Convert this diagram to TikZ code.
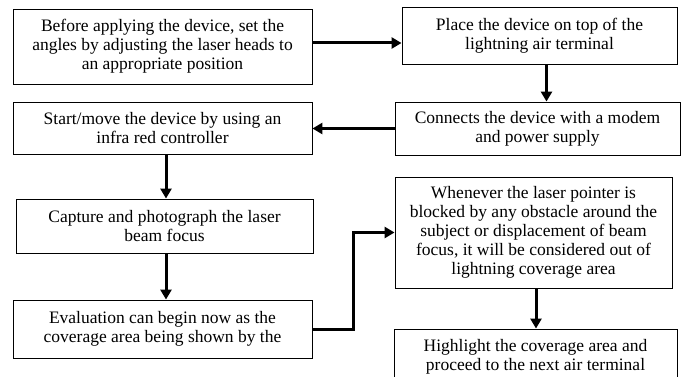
\documentclass[tikz,border=0pt]{standalone}
\usepackage{fontspec}
\setmainfont{Liberation Serif}
\usepackage{tikz}
\usetikzlibrary{arrows.meta}

\begin{document}
\begin{tikzpicture}[x=1pt,y=-1pt,
 stepbox/.style={draw,line width=0.9pt,fill=white,align=center,inner sep=0pt,
  font=\fontsize{17.5}{19}\selectfont},
 flow/.style={line width=3pt,-{Triangle[length=10pt,width=11pt]}}]
 \useasboundingbox (0,0) rectangle (686,377);
 \clip (0,0) rectangle (686,377);
 % left column
 \node[stepbox,minimum width=299pt,minimum height=75pt] (b1) at (162.5,46.5)
  {Before applying the device, set the\\angles by adjusting the laser heads to\\an appropriate position};
 \node[stepbox,minimum width=299pt,minimum height=52pt] (b4) at (162.5,128)
  {Start/move the device by using an\\infra red controller};
 \node[stepbox,minimum width=297pt,minimum height=54pt] (b5) at (164.5,226)
  {Capture and photograph the laser\\beam focus};
 \node[stepbox,minimum width=299pt,minimum height=58pt] (b6) at (162.5,329)
  {Evaluation can begin now as the\\coverage area being shown by the};
 % right column
 \node[stepbox,minimum width=275pt,minimum height=57pt] (b2) at (539.5,35.5)
  {Place the device on top of the\\lightning air terminal};
 \node[stepbox,minimum width=285pt,minimum height=53pt] (b3) at (537.5,128.5)
  {Connects the device with a modem\\and power supply};
 \node[stepbox,minimum width=277pt,minimum height=111pt] (b7) at (533.5,232.5)
  {Whenever the laser pointer is\\blocked by any obstacle around the\\subject or displacement of beam\\focus, it will be considered out of\\lightning coverage area};
 \node[stepbox,minimum width=283pt,minimum height=56pt] (b8) at (535.5,357)
  {Highlight the coverage area and\\proceed to the next air terminal};

 %%%%%%%%%%%%%%%%%%%%%%%%%%%%%%%%%%%
 \draw[flow] ([yshift=3.5pt]b1.east) -- ([yshift=3.5pt]b1.east -| b2.west);
 \draw[flow] ([xshift=7pt]b2.south) -- ([xshift=7pt]b2.south |- b3.north);
 \draw[flow] (b3.west) -- (b3.west -| b4.east);
 \draw[flow] ([xshift=3.5pt]b4.south) -- ([xshift=3.5pt]b4.south |- b5.north);
 \draw[flow] ([xshift=1.5pt]b5.south) -- ([xshift=1.5pt]b5.south |- b6.north);
 \draw[flow] (b6.east) -- ++(41,0) |- (b7.west);
 \draw[flow] ([xshift=2.5pt]b7.south) -- ([xshift=2.5pt]b7.south |- b8.north);
\end{tikzpicture}
\end{document}
